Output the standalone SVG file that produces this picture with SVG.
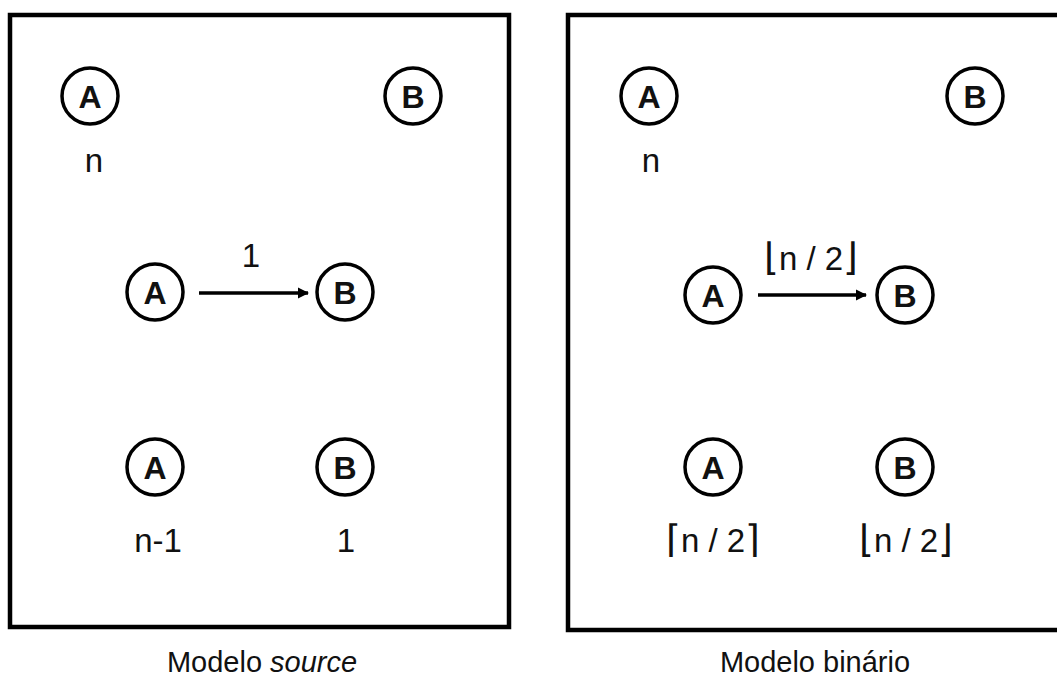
<svg xmlns="http://www.w3.org/2000/svg" width="1057" height="681" viewBox="0 0 1057 681">
  <style>
    .frame { fill: none; stroke: #000; stroke-width: 4.5; }
    .node circle { fill: #fff; stroke: #000; stroke-width: 3.5; }
    .node text { font-family: "Liberation Sans", "DejaVu Sans", sans-serif; font-weight: bold; font-size: 32px; text-anchor: middle; fill: #111; }
    .lbl { font-family: "Liberation Sans", "DejaVu Sans", sans-serif; font-size: 33px; text-anchor: middle; fill: #111; }
    .br { font-family: "DejaVu Sans", sans-serif; font-size: 38px; font-weight: 300; }
    .cap { font-family: "Liberation Sans", "DejaVu Sans", sans-serif; font-size: 29px; text-anchor: middle; fill: #111; }
    .edge { stroke: #000; stroke-width: 3.5; fill: none; }
  </style>
  <defs>
    <marker id="arrow" viewBox="0 0 10 10" refX="9" refY="5" markerWidth="3.2" markerHeight="3.2" orient="auto" markerUnits="strokeWidth">
      <path d="M0,0 L10,5 L0,10 z" fill="#000"/>
    </marker>
  </defs>

  <rect width="1057" height="681" fill="#fff"/>

  <!-- left panel: source model -->
  <rect class="frame" x="10" y="15" width="499" height="612"/>
  <!-- right panel: binary model (runs past the right edge) -->
  <rect class="frame" x="568" y="15" width="520" height="615"/>

  <g id="connectors">
    <line class="edge" x1="199" y1="293" x2="308" y2="293" marker-end="url(#arrow)"/>
    <line class="edge" x1="758" y1="295" x2="866" y2="295" marker-end="url(#arrow)"/>
  </g>

  <!-- left panel nodes -->
  <g id="src-a-top" class="node"><circle cx="90" cy="96" r="28"/><text x="90" y="108">A</text></g>
  <g id="src-b-top" class="node"><circle cx="413" cy="96" r="28"/><text x="413" y="108">B</text></g>
  <g id="src-a-mid" class="node"><circle cx="155" cy="292" r="28"/><text x="155" y="304">A</text></g>
  <g id="src-b-mid" class="node"><circle cx="345" cy="292" r="28"/><text x="345" y="304">B</text></g>
  <g id="src-a-bot" class="node"><circle cx="155" cy="467" r="28"/><text x="155" y="479">A</text></g>
  <g id="src-b-bot" class="node"><circle cx="345" cy="467" r="28"/><text x="345" y="479">B</text></g>

  <!-- right panel nodes -->
  <g id="bin-a-top" class="node"><circle cx="649" cy="96" r="28"/><text x="649" y="108">A</text></g>
  <g id="bin-b-top" class="node"><circle cx="975" cy="96" r="28"/><text x="975" y="108">B</text></g>
  <g id="bin-a-mid" class="node"><circle cx="713" cy="295" r="28"/><text x="713" y="307">A</text></g>
  <g id="bin-b-mid" class="node"><circle cx="905" cy="295" r="28"/><text x="905" y="307">B</text></g>
  <g id="bin-a-bot" class="node"><circle cx="713" cy="467" r="28"/><text x="713" y="479">A</text></g>
  <g id="bin-b-bot" class="node"><circle cx="905" cy="467" r="28"/><text x="905" y="479">B</text></g>

  <!-- counts -->
  <g id="labels">
    <text class="lbl" x="94" y="172">n</text>
    <text class="lbl" x="251" y="267">1</text>
    <text class="lbl" x="158" y="552">n-1</text>
    <text class="lbl" x="346" y="552">1</text>

    <text class="lbl" x="651" y="172">n</text>
    <text class="lbl" x="811" y="270"><tspan class="br">⌊</tspan>n / 2<tspan class="br">⌋</tspan></text>
    <text class="lbl" x="713" y="552"><tspan class="br">⌈</tspan>n / 2<tspan class="br">⌉</tspan></text>
    <text class="lbl" x="906" y="552"><tspan class="br">⌊</tspan>n / 2<tspan class="br">⌋</tspan></text>
  </g>

  <!-- panel captions -->
  <text class="cap" x="262" y="672">Modelo <tspan font-style="italic">source</tspan></text>
  <text class="cap" x="815" y="672">Modelo binário</text>
</svg>
